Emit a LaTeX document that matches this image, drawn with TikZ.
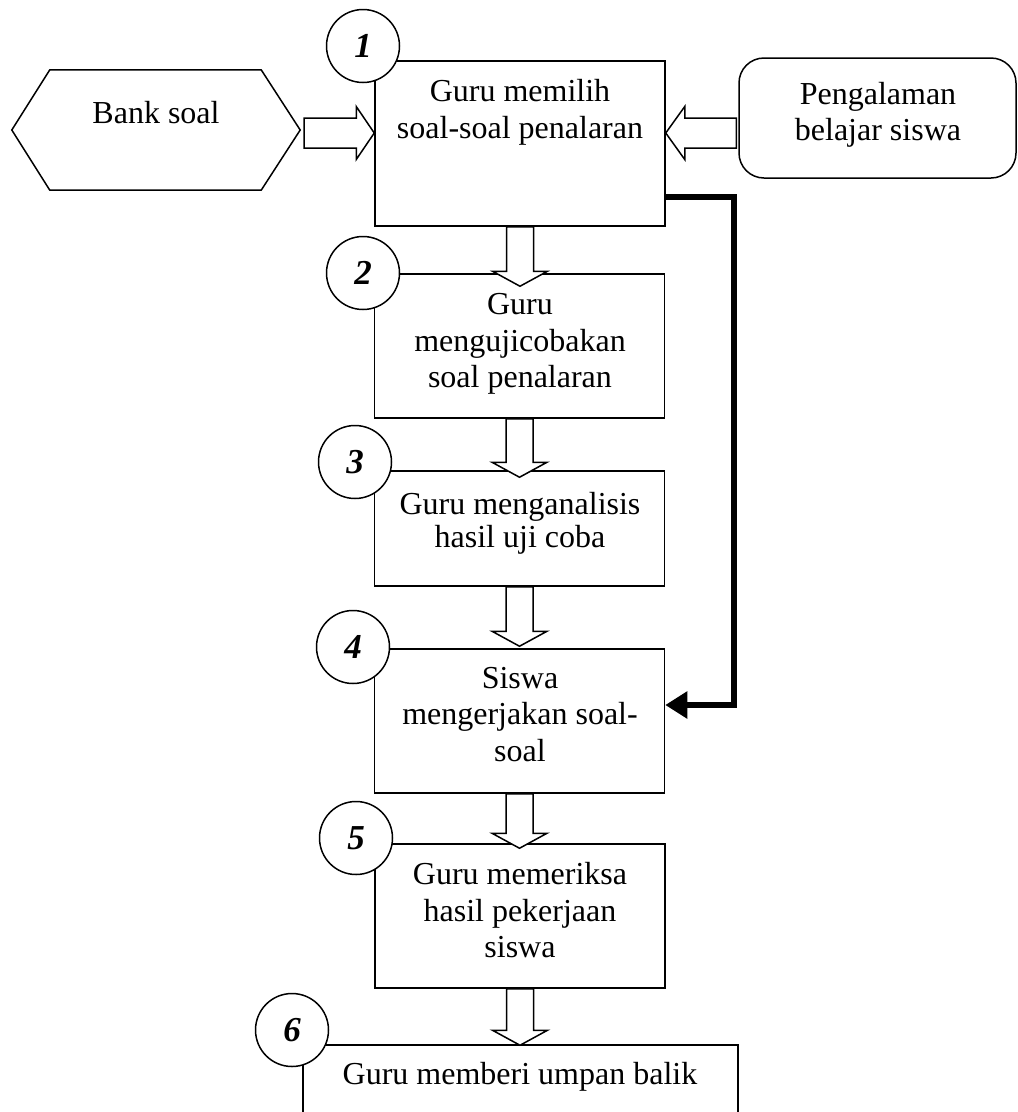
\documentclass[tikz,border=0pt]{standalone}
\usepackage{fontspec}
\setmainfont{Liberation Serif}
\usetikzlibrary{calc,arrows.meta}
\newcommand\downblock[3]{% #1 source box, #2 target box, #3 tip depth into target
  \draw[blk] let \p1=(#1.south), \p2=(#2.north) in
    (\x1-13.5pt,\y1) -- (\x1-13.5pt,\y2-#3+15pt) -- (\x1-27.5pt,\y2-#3+15pt)
    -- (\x1,\y2-#3) -- (\x1+27.5pt,\y2-#3+15pt) -- (\x1+13.5pt,\y2-#3+15pt)
    -- (\x1+13.5pt,\y1) -- cycle;}
\begin{document}
\begin{tikzpicture}[x=1pt,y=-1pt,
  box/.style={draw,line width=1.5pt,minimum width=290pt,inner sep=0pt},
  txt/.style={align=center,inner sep=0pt,font=\fontsize{32}{36.5}\selectfont},
  num/.style={circle,draw,fill=white,line width=1.5pt,minimum size=73pt,inner sep=0pt,
    font=\fontsize{35}{36}\selectfont\bfseries\itshape},
  blk/.style={draw,fill=white,line width=1.5pt,line join=miter},
  feedback/.style={line width=6pt,line join=miter,-{Triangle[length=22pt,width=26pt]}}]
\clip (0,0) rectangle (1018,1112);
\fill[white] (0,0) rectangle (1018,1112);

% process boxes
\node[box,minimum height=165pt] (b1) at (520,143.5) {};
\node[box,minimum height=144pt] (b2) at (519.5,346) {};
\node[box,minimum height=115pt] (b3) at (519.5,528.5) {};
\node[box,minimum height=144pt] (b4) at (519.5,721) {};
\node[box,minimum height=144pt] (b5) at (520,916) {};
\node[box,minimum width=435pt,minimum height=120pt] (b6) at (520.5,1105) {};

% inputs
\node[minimum width=288pt,minimum height=120pt,inner sep=0pt] (bank) at (156,130) {};
\draw[line width=1.5pt] (bank.west) -- ([xshift=38pt]bank.north west) -- ([xshift=-39pt]bank.north east)
  -- (bank.east) -- ([xshift=-39pt]bank.south east) -- ([xshift=38pt]bank.south west) -- cycle;
\node[draw,line width=1.5pt,rounded corners=25pt,minimum width=277pt,minimum height=120pt,inner sep=0pt]
  (exp) at (877.5,118) {};

% texts
\node[txt] (t1) at (520,112.5) {Guru memilih\\soal-soal penalaran};
\node[txt] (t2) at (520,344) {Guru\\mengujicobakan\\soal penalaran};
\node[txt,font=\fontsize{32}{33}\selectfont] (t3) at (520,523) {Guru menganalisis\\hasil uji coba};
\node[txt] (t4) at (520,714.5) {Siswa\\mengerjakan soal-\\soal};
\node[txt] (t5) at (520,910.5) {Guru memeriksa\\hasil pekerjaan\\siswa};
\node[txt] (t6) at (520,1076.5) {Guru memberi umpan balik};
\node[txt] (tb) at (156,113) {Bank soal};
\node[txt] (te) at (878,115) {Pengalaman\\belajar siswa};

% horizontal block arrows into step 1
\draw[blk] let \p1=(bank.east), \p2=([yshift=10.5pt]b1.west) in
  (\x1+4pt,\y2+15pt) -- (\x2-18pt,\y2+15pt) -- (\x2-18pt,\y2+26.5pt) -- (\x2,\y2)
  -- (\x2-18pt,\y2-26.5pt) -- (\x2-18pt,\y2-15pt) -- (\x1+4pt,\y2-15pt) -- cycle;
\draw[blk] let \p1=(exp.west), \p2=([yshift=10.5pt]b1.east) in
  (\x1-2pt,\y2+15pt) -- (\x2+19pt,\y2+15pt) -- (\x2+19pt,\y2+26.5pt) -- (\x2,\y2)
  -- (\x2+19pt,\y2-26.5pt) -- (\x2+19pt,\y2-15pt) -- (\x1-2pt,\y2-15pt) -- cycle;

% vertical block arrows between steps
\downblock{b1}{b2}{13pt}
\downblock{b2}{b3}{7pt}
\downblock{b3}{b4}{-2pt}
\downblock{b4}{b5}{5pt}
\downblock{b5}{b6}{1pt}

% direct path from step 1 to step 4
\coordinate (fa) at (734,197);
\coordinate (fb) at (734,705);
\draw[feedback] ([yshift=-53.5pt]b1.east) -- (fa) -- (fb) -- ([yshift=16pt]b4.east);

% step numbers
\node[num] (n1) at (363,46) {1};
\node[num] (n2) at (363,273) {2};
\node[num] (n3) at (355,462) {3};
\node[num] (n4) at (353,647) {4};
\node[num] (n5) at (356,838) {5};
\node[num] (n6) at (292,1030) {6};
\end{tikzpicture}
\end{document}
